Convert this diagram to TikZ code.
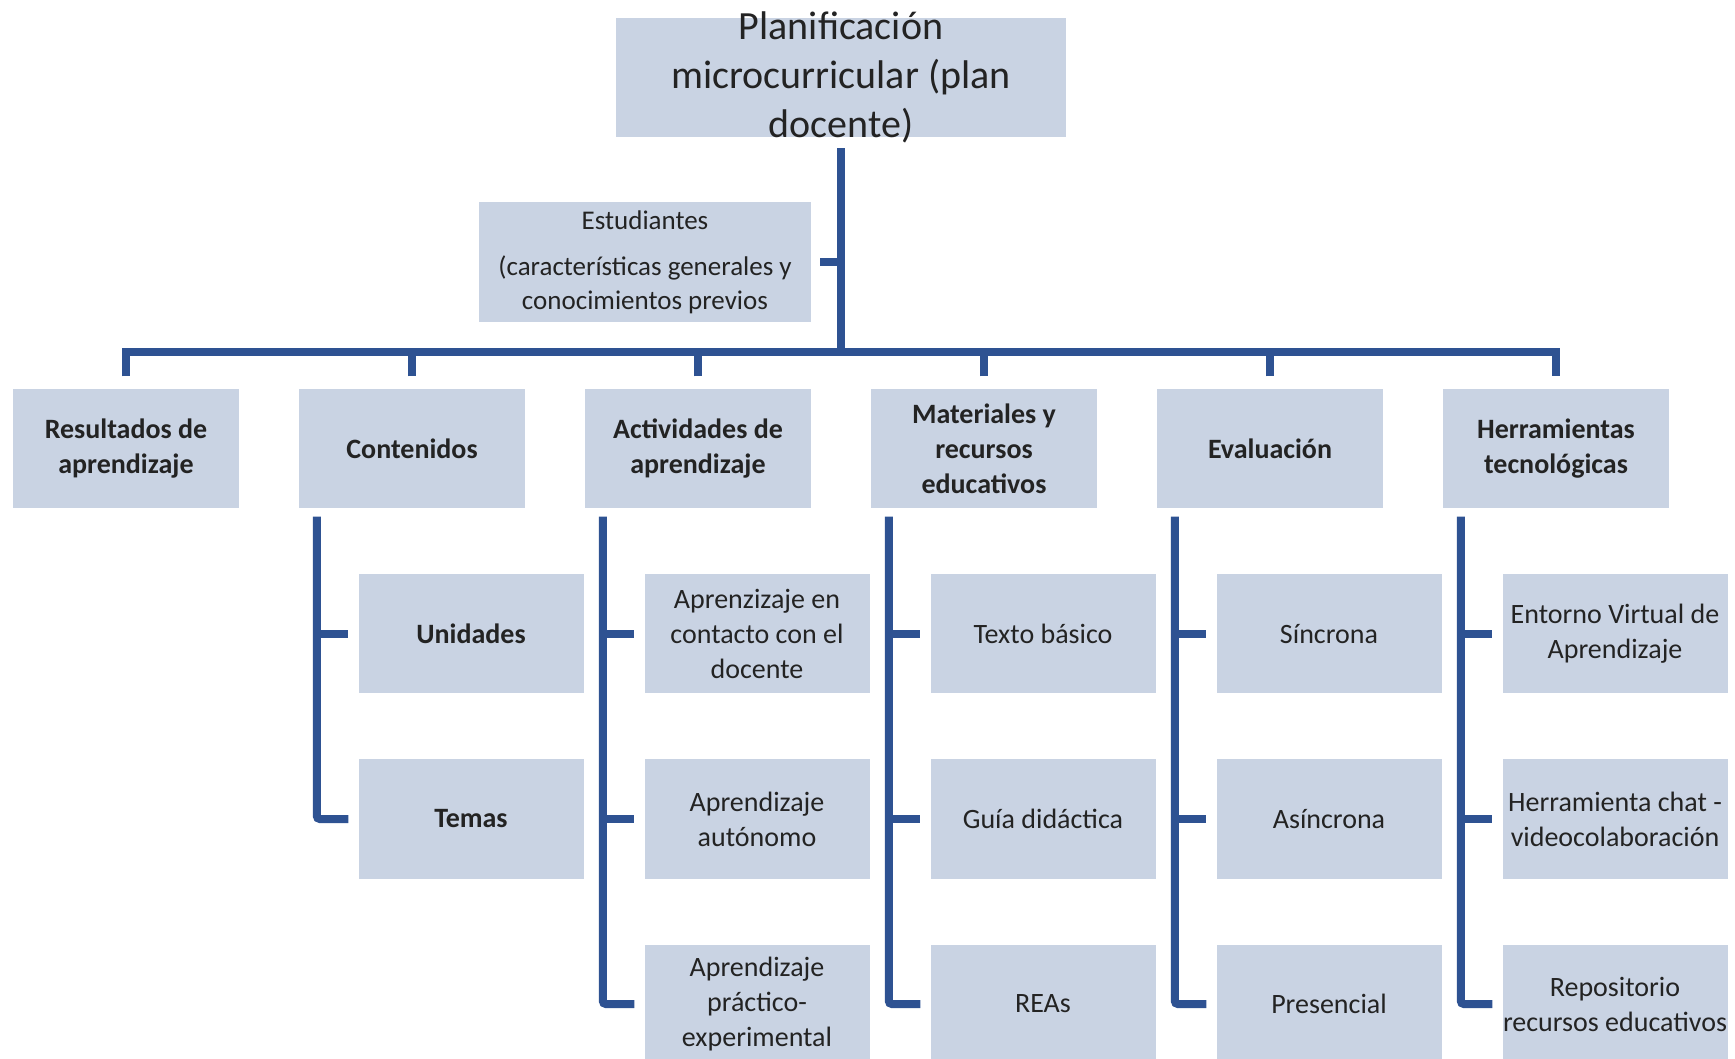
\documentclass[tikz,border=0pt]{standalone}
\usepackage{fontspec}
\setmainfont{Carlito}
\usepackage{tikz}
\usetikzlibrary{calc}
\definecolor{boxfill}{RGB}{201,211,227}
\definecolor{linkblue}{RGB}{46,82,146}
\definecolor{txt}{RGB}{35,35,35}
\tikzstyle{basebox} = [rectangle, fill=boxfill, minimum width=226pt, minimum height=119pt, inner sep=0pt, align=center, text=txt]
\tikzstyle{rootbox} = [basebox, minimum width=450pt]
\tikzstyle{roottext} = [align=center, inner sep=0pt, text=txt, font=\fontsize{40}{49}\selectfont]
\tikzstyle{notebox} = [basebox, minimum width=332pt, minimum height=120pt, font=\fontsize{27}{34}\selectfont]
\tikzstyle{catbox} = [basebox, font=\fontsize{28}{35}\selectfont\bfseries]
\tikzstyle{subbox} = [basebox, minimum width=225pt, font=\fontsize{28}{35}\selectfont]
\tikzstyle{subbold} = [subbox, font=\fontsize{28}{35}\selectfont\bfseries]
\tikzstyle{link} = [line width=8pt, draw=linkblue]
\tikzstyle{spine} = [link, rounded corners=3pt, shorten >=10pt]

\begin{document}
\begin{tikzpicture}[x=1pt, y=1pt, node distance=185pt]
\useasboundingbox (-126,449) rectangle (1609,-610);

% Nodo principale e studenti
\node (plan) [rootbox, label={[roottext]center:{Planificación\\microcurricular (plan\\docente)}}] at (715,371.5) {};
\node (estud) [notebox] at (519,187) {Estudiantes\\[12pt](características generales y\\conocimientos previos};

% Primo livello
\node (result) [catbox] {Resultados de\\aprendizaje};
\node (conten) [catbox, right of=result, xshift=101pt] {Contenidos};
\node (activ) [catbox, right of=conten, xshift=101pt] {Actividades de\\aprendizaje};
\node (mater) [catbox, right of=activ, xshift=101pt] {Materiales y\\recursos\\educativos};
\node (evalu) [catbox, right of=mater, xshift=101pt] {Evaluación};
\node (herram) [catbox, right of=evalu, xshift=101pt] {Herramientas\\tecnológicas};

% Secondo livello
\node (unid) [subbold, below of=conten, xshift=59pt] {Unidades};
\node (temas) [subbold, below of=unid] {Temas};
\node (acon) [subbox, below of=activ, xshift=59pt] {Aprenzizaje en\\contacto con el\\docente};
\node (auton) [subbox, below of=acon] {Aprendizaje\\autónomo};
\node (aprac) [subbox, below of=auton] {Aprendizaje\\práctico-\\experimental};
\node (texto) [subbox, below of=mater, xshift=59pt] {Texto básico};
\node (guia) [subbox, below of=texto] {Guía didáctica};
\node (reas) [subbox, below of=guia] {REAs};
\node (sinc) [subbox, below of=evalu, xshift=59pt] {Síncrona};
\node (asinc) [subbox, below of=sinc] {Asíncrona};
\node (pres) [subbox, below of=asinc] {Presencial};
\node (entor) [subbox, below of=herram, xshift=59pt] {Entorno Virtual de\\Aprendizaje};
\node (chat) [subbox, below of=entor] {Herramienta chat -\\videocolaboración};
\node (repos) [subbox, below of=chat] {Repositorio\\recursos educativos};

% Linee
\coordinate (bar) at (715,97);
\draw [link, shorten <=11pt] (plan.south) -- (bar);
\draw [link, shorten <=9pt] (estud.east) -- (estud.east -| bar);
\draw [link, shorten <=13pt, shorten >=13pt] (result.north) |- (bar) -| (herram.north);
\foreach \n in {conten, activ, mater, evalu}
  \draw [link, shorten <=13pt] (\n.north) -- (\n.north |- bar);

\foreach \p/\b in {conten/temas, activ/aprac, mater/reas, evalu/pres, herram/repos} {
  \coordinate (sp-\p) at ($(\p.south west)+(18,-8)$);
  \draw [spine] (sp-\p) |- (\b.west);
}
\foreach \p/\m in {conten/unid, activ/acon, activ/auton, mater/texto, mater/guia, evalu/sinc, evalu/asinc, herram/entor, herram/chat}
  \draw [link, shorten >=10pt] (\m.west -| sp-\p) -- (\m.west);
\end{tikzpicture}
\end{document}
